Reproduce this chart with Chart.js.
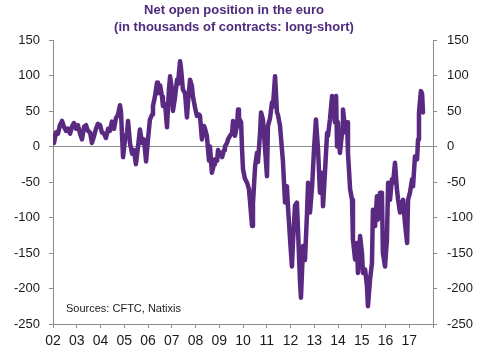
<!DOCTYPE html>
<html>
<head>
<meta charset="utf-8">
<script src="https://cdn.jsdelivr.net/npm/chart.js@4/dist/chart.umd.min.js"></script>
<style>
  html, body { margin: 0; padding: 0; background: #ffffff; }
  #wrap { width: 500px; height: 356px; position: relative; }
</style>
</head>
<body>
<div id="wrap"><canvas id="c" width="500" height="356"></canvas></div>
<script>
// ---- Data ----
const titleLines = ["Net open position in the euro", "(in thousands of contracts: long-short)"];
const sourceNote = "Sources: CFTC, Natixis";
const yTicks = [-250, -200, -150, -100, -50, 0, 50, 100, 150];
const yearTicks = ["02","03","04","05","06","07","08","09","10","11","12","13","14","15","16","17"];

const years = [
  2002.00,2002.04,2002.13,2002.21,2002.29,2002.38,2002.46,2002.55,2002.63,2002.72,2002.80,2002.88,2002.97,
  2003.05,2003.14,2003.22,2003.31,2003.39,2003.47,2003.56,2003.64,2003.73,2003.81,2003.89,2003.98,
  2004.06,2004.15,2004.23,2004.32,2004.40,2004.48,2004.57,2004.65,2004.74,2004.82,2004.86,2004.95,
  2005.03,2005.12,2005.16,2005.24,2005.33,2005.41,2005.49,2005.58,2005.66,2005.75,2005.83,2005.92,
  2006.00,2006.08,2006.17,2006.21,2006.29,2006.38,2006.42,2006.51,2006.59,2006.63,2006.72,2006.80,2006.88,2006.93,
  2007.01,2007.05,2007.14,2007.22,2007.26,2007.35,2007.39,2007.47,2007.56,2007.64,2007.68,2007.77,2007.85,2007.89,2007.98,
  2008.06,2008.15,2008.19,2008.27,2008.36,2008.40,2008.48,2008.53,2008.57,2008.61,2008.69,2008.78,2008.82,2008.91,2008.95,
  2009.03,2009.12,2009.20,2009.24,2009.33,2009.37,2009.45,2009.54,2009.58,2009.66,2009.75,2009.79,2009.83,2009.92,2009.96,
  2010.00,2010.08,2010.17,2010.25,2010.29,2010.38,2010.42,2010.51,2010.59,2010.63,2010.72,2010.76,2010.84,2010.93,
  2011.01,2011.05,2011.14,2011.22,2011.26,2011.31,2011.35,2011.43,2011.47,2011.56,2011.64,2011.68,2011.77,2011.85,2011.89,2011.98,
  2012.06,2012.11,2012.19,2012.27,2012.32,2012.40,2012.44,2012.53,2012.61,2012.69,2012.74,2012.82,2012.91,2012.99,
  2013.07,2013.16,2013.24,2013.33,2013.37,2013.45,2013.54,2013.58,2013.66,2013.75,2013.79,2013.87,2013.92,2013.96,
  2014.00,2014.08,2014.17,2014.21,2014.29,2014.38,2014.42,2014.51,2014.59,2014.63,2014.72,2014.80,2014.84,2014.93,
  2015.01,2015.05,2015.14,2015.22,2015.26,2015.35,2015.43,2015.47,2015.56,2015.64,2015.68,2015.77,2015.85,2015.89,2015.98,
  2016.06,2016.11,2016.19,2016.27,2016.32,2016.40,2016.48,2016.53,2016.61,2016.69,2016.74,2016.82,2016.91,2016.95,
  2017.03,2017.12,2017.16,2017.24,2017.33,2017.37,2017.41,2017.49,2017.54,2017.58
];

const netPosition = [
  15,5,20,18,30,36,28,22,25,18,28,33,25,
  30,18,10,28,30,22,20,5,15,25,32,30,
  20,18,12,25,22,35,25,40,45,58,50,-15,
  10,20,36,5,-10,-5,-25,0,24,5,10,-21,
  10,38,45,57,70,90,75,86,70,57,60,27,80,99,
  80,50,70,94,88,120,110,80,75,41,60,94,85,71,55,
  43,45,43,10,29,25,15,-5,-20,0,-37,-25,-18,-20,-5,
  -10,-15,-5,0,5,10,15,19,36,15,30,52,40,34,-4,
  -32,-45,-51,-60,-75,-112,-80,-28,-9,-22,20,48,38,-4,
  -42,29,40,62,56,80,99,48,45,29,-4,-20,-79,-56,-83,-130,
  -169,-131,-83,-79,-121,-190,-213,-140,-160,-98,-51,-93,-56,-4,
  38,-4,-65,-37,-84,-37,19,15,38,71,62,34,71,0,
  34,-9,19,52,29,34,-9,-60,-75,-131,-159,-136,-178,-126,
  -150,-178,-173,-197,-225,-187,-164,-89,-112,-70,-103,-65,-65,-150,-169,
  -131,-51,-75,-46,-51,-23,-60,-75,-93,-79,-75,-108,-136,-75,
  -65,-46,-56,-14,-18,10,48,78,75,48
];

// ---- Styling ----
const PURPLE = "#5a2a82";
const TITLE_PURPLE = "#4e2a7c";
const AXIS_GRAY = "#8c8c8c";
const TEXT = "#1a1a1a";
const FONT = "'Liberation Sans', Arial, sans-serif";

const points = years.map((x, i) => ({ x: x, y: netPosition[i] }));

const annotationPlugin = {
  id: 'texts',
  afterDraw(chart) {
    const ctx = chart.ctx;
    ctx.save();
    ctx.fillStyle = TITLE_PURPLE;
    ctx.font = "bold 13px " + FONT;
    ctx.textAlign = "center";
    ctx.textBaseline = "alphabetic";
    ctx.fillText(titleLines[0], 234, 14);
    ctx.fillText(titleLines[1], 234, 31);
    ctx.fillStyle = TEXT;
    ctx.font = "11px " + FONT;
    ctx.textAlign = "left";
    ctx.textBaseline = "middle";
    ctx.fillText(sourceNote, 66, 309);
    ctx.restore();
  }
};

const yCommon = {
  type: 'linear',
  min: -250, max: 150,
  afterBuildTicks(scale) { scale.ticks = yTicks.map(v => ({ value: v })); },
  border: { display: true, color: AXIS_GRAY, width: 1 },
};

new Chart(document.getElementById('c'), {
  type: 'line',
  data: {
    datasets: [{
      data: points,
      borderColor: PURPLE,
      borderWidth: 4.5,
      pointRadius: 0,
      tension: 0,
      borderJoinStyle: 'round',
      borderCapStyle: 'round',
      fill: false,
      yAxisID: 'y'
    }]
  },
  options: {
    responsive: false,
    animation: false,
    devicePixelRatio: 1,
    layout: { padding: { top: 40, left: 0, right: 0, bottom: 0 } },
    plugins: { legend: { display: false }, tooltip: { enabled: false }, title: { display: false } },
    scales: {
      x: {
        type: 'linear',
        position: 'bottom',
        min: 2002, max: 2018,
        afterBuildTicks(scale) {
          scale.ticks = yearTicks.map((t, i) => ({ value: 2002 + i })).concat([{ value: 2018 }]);
        },
        ticks: {
          autoSkip: false,
          maxRotation: 0,
          padding: 5,
          color: TEXT,
          font: { family: FONT, size: 14 },
          callback(v) { const i = Math.round(v) - 2002; return yearTicks[i] !== undefined ? yearTicks[i] : ''; }
        },
        grid: { drawOnChartArea: false, drawTicks: true, tickLength: 4, color: AXIS_GRAY, tickColor: AXIS_GRAY },
        border: { display: true, color: AXIS_GRAY, width: 1 },
        afterFit(scale) { scale.height = 32; }
      },
      y: Object.assign({}, yCommon, {
        position: 'left',
        ticks: { color: TEXT, padding: 9, font: { family: FONT, size: 13 } },
        grid: {
          drawOnChartArea: true, drawTicks: true, tickLength: 4,
          color: ctx => (ctx.tick && ctx.tick.value === 0) ? AXIS_GRAY : 'rgba(0,0,0,0)',
          tickColor: AXIS_GRAY
        },
        afterFit(scale) { scale.width = 53; }
      }),
      y2: Object.assign({}, yCommon, {
        position: 'right',
        ticks: { color: TEXT, padding: 10, font: { family: FONT, size: 13 } },
        grid: { drawOnChartArea: false, drawTicks: true, tickLength: 4, color: AXIS_GRAY, tickColor: AXIS_GRAY },
        afterFit(scale) { scale.width = 67; }
      })
    }
  },
  plugins: [annotationPlugin]
});
</script>
</body>
</html>
